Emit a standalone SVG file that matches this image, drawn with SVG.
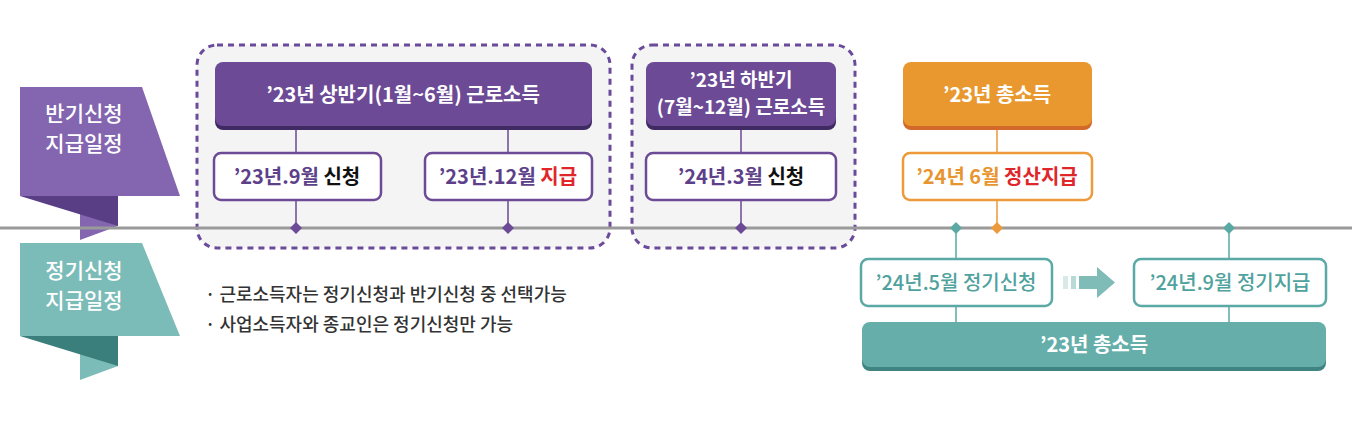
<svg xmlns="http://www.w3.org/2000/svg" width="1352" height="422" viewBox="0 0 1352 422">
<style>
text{font-family:"Noto Sans CJK KR","Noto Sans",sans-serif;font-weight:700;text-anchor:middle}
.w{fill:#fff;font-size:20px}
.w2{fill:#fff;font-size:19px}
.rb{fill:#fff;font-size:21px;font-weight:500}
.p{fill:#5d3f8a;font-size:20px}
.k{fill:#111}
.r{fill:#e0262a}
.o{fill:#e8952f;font-size:20px}
.t{fill:#4fa29d;font-size:20px;font-weight:500}
.dash{fill:#f4f4f4;stroke:#6a4a9a;stroke-width:3;stroke-dasharray:6 5}
.pb{fill:#fff;stroke:#6c4a95;stroke-width:2.5}
.ob{fill:#fff;stroke:#ec9a3a;stroke-width:2.5}
.tb{fill:#fff;stroke:#5aa9a4;stroke-width:2.5}
.note{fill:#333;font-size:18px;font-weight:500;text-anchor:start}
</style>
<rect width="1352" height="422" fill="#fff"/>
<g id="ribbon-half">
<polygon points="80,196 118,196 118,226 80,212" fill="#4d3470"/>
<polygon points="80,212 118,226 80,240" fill="#8466b0"/>
<polygon points="20,87 142,87 180,196 20,196" fill="#8466b0"/>
<polygon points="20,196 118,196 118,226" fill="#5a3e85"/>
<text class="rb" x="84" y="121">반기신청</text><text class="rb" x="84" y="151">지급일정</text>
</g>
<g id="ribbon-regular">
<polygon points="80,336 118,336 118,366 80,352" fill="#2f7571"/>
<polygon points="80,352 118,366 80,380" fill="#7cbcb8"/>
<polygon points="20,243 142,243 180,336 20,336" fill="#7cbcb8"/>
<polygon points="20,336 118,336 118,366" fill="#3a7f7b"/>
<text class="rb" x="84" y="278">정기신청</text><text class="rb" x="84" y="308">지급일정</text>
</g>
<rect id="group1" class="dash" x="197" y="45" width="413" height="203" rx="20"/>
<rect id="group2" class="dash" x="632" y="45" width="223" height="203" rx="20"/>
<line x1="0" y1="228" x2="1352" y2="228" stroke="#9a9a9a" stroke-width="3"/>
<g id="connectors" stroke-width="1.5">
<g stroke="#6c4a95"><line x1="296" y1="128" x2="296" y2="228"/><line x1="508" y1="128" x2="508" y2="228"/><line x1="741" y1="128" x2="741" y2="228"/></g>
<line x1="997" y1="128" x2="997" y2="228" stroke="#ec9a3a"/>
<g stroke="#5aa9a4"><line x1="956" y1="228" x2="956" y2="322"/><line x1="1229" y1="228" x2="1229" y2="322"/></g>
<g fill="#6c4a95"><path d="M296 222l6 6-6 6-6-6z"/><path d="M508 222l6 6-6 6-6-6z"/><path d="M741 222l6 6-6 6-6-6z"/></g>
<path d="M997 222l6 6-6 6-6-6z" fill="#ec9a3a"/>
<g fill="#5aa9a4"><path d="M956 222l6 6-6 6-6-6z"/><path d="M1229 222l6 6-6 6-6-6z"/></g>
<g id="arrow"><rect x="1063" y="276" width="5" height="13" fill="#d8e9e8"/><rect x="1071" y="276" width="5" height="13" fill="#b8d9d6"/><path d="M1079 276h18v-9l18 15.5-18 15.5v-9h-18z" fill="#7fbcb7"/></g>
</g>
<g id="h1"><rect x="215" y="64" width="377" height="66" rx="8" fill="#3f2a63"/><rect x="215" y="62" width="377" height="64" rx="8" fill="#6c4a95"/><text class="w" x="403" y="102">’23년 상반기(1월~6월) 근로소득</text></g>
<g id="b1"><rect class="pb" x="214" y="153" width="167" height="47" rx="7"/><text class="p" x="297" y="184">’23년.9월 <tspan class="k">신청</tspan></text></g>
<g id="b2"><rect class="pb" x="425" y="153" width="167" height="47" rx="7"/><text class="p" x="508" y="184">’23년.12월 <tspan class="r">지급</tspan></text></g>
<g id="h2"><rect x="646" y="64" width="190" height="66" rx="8" fill="#3f2a63"/><rect x="646" y="62" width="190" height="64" rx="8" fill="#6c4a95"/><text class="w2" x="741" y="87">’23년 하반기</text><text class="w2" x="741" y="114">(7월~12월) 근로소득</text></g>
<g id="b3"><rect class="pb" x="646" y="153" width="190" height="47" rx="7"/><text class="p" x="741" y="184">’24년.3월 <tspan class="k">신청</tspan></text></g>
<g id="h3"><rect x="903" y="64" width="189" height="66" rx="8" fill="#d2682a"/><rect x="903" y="62" width="189" height="64" rx="8" fill="#e8982f"/><text class="w" x="997" y="102">’23년 총소득</text></g>
<g id="b4"><rect class="ob" x="903" y="153" width="189" height="47" rx="7"/><text class="o" x="997" y="184">’24년 6월 <tspan class="r">정산지급</tspan></text></g>
<g id="b5"><rect class="tb" x="861" y="259" width="191" height="47" rx="7"/><text class="t" x="956" y="290">’24년.5월 정기신청</text></g>
<g id="b6"><rect class="tb" x="1134" y="259" width="192" height="47" rx="7"/><text class="t" x="1230" y="290">’24년.9월 정기지급</text></g>
<g id="h4"><rect x="862" y="324" width="464" height="47" rx="8" fill="#3f8480"/><rect x="862" y="322" width="464" height="45" rx="8" fill="#65aeaa"/><text class="w" x="1094" y="352">’23년 총소득</text></g>
<g id="notes"><text class="note" x="205" y="301">· 근로소득자는 정기신청과 반기신청 중 선택가능</text><text class="note" x="205" y="331">· 사업소득자와 종교인은 정기신청만 가능</text></g>
</svg>
